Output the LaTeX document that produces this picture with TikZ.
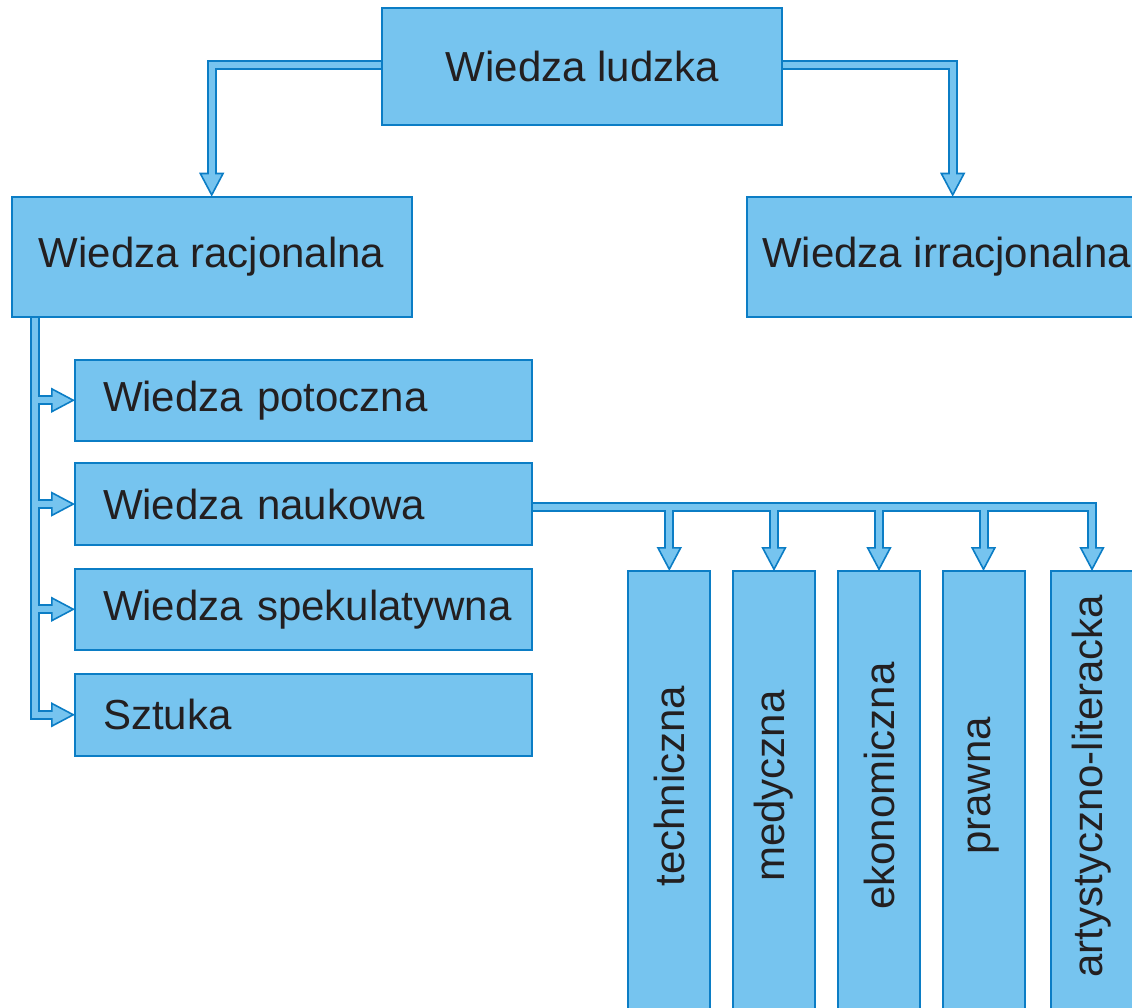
\documentclass[tikz,border=0pt]{standalone}
\usepackage{fontspec}
\setmainfont{Liberation Sans}
\usetikzlibrary{arrows.meta,calc,backgrounds}
\definecolor{lblue}{HTML}{76C4EF}
\definecolor{dblue}{HTML}{0B7DC5}
\definecolor{txt}{HTML}{231F20}
\newcommand\bigfnt{\fontsize{42pt}{50pt}\selectfont}
\newcommand\lboxtext[1]{\hspace*{14pt}\mbox{#1}}
\begin{document}
\begin{tikzpicture}[x=1pt,y=-1pt,
  box/.style={draw=dblue, line width=2pt, fill=lblue, inner sep=0pt, outer sep=0pt, font=\bigfnt, text=txt},
  topbox/.style={box, anchor=north west, minimum width=400pt, minimum height=118pt},
  lbox/.style={box, anchor=north west, text width=429pt, inner xsep=14pt, align=left, minimum height=81.5pt},
  vbox/.style={box, anchor=north, minimum width=82pt, minimum height=470pt},
  vtext/.style={rotate=90, font=\bigfnt, text=txt, inner sep=0pt},
  outer/.style={draw=dblue, line width=10pt, line join=miter},
  inner/.style={draw=lblue, line width=6pt, line join=miter, shorten >=22pt},
  tip/.style={-{Triangle[length=24pt,width=25pt,line width=1.6pt,fill=lblue]}}
]
\clip (0,0) rectangle (1132,1007);

% boxes
\node[topbox, minimum height=117pt] (ludzka) at (382.3,8.3) {Wiedza ludzka};
\node[topbox, minimum height=120pt] (racj) at (11.7,196.7) {Wiedza racjonalna};
\node[topbox, minimum height=120pt] (irr) at (746.7,196.7) {Wiedza irracjonalna};

\node[lbox] (potoczna) at (75,359.5) {\lboxtext{Wiedza potoczna}};
\node[lbox] (naukowa) at (75,463.3) {\lboxtext{Wiedza naukowa}};
\node[lbox] (spek) at (75,568.5) {\lboxtext{Wiedza spekulatywna}};
\node[lbox] (sztuka) at (75,674) {\lboxtext{Sztuka}};

\node[vbox] (tech) at (669.3,571) {};
\node[vbox] (med) at (774,571) {};
\node[vbox] (eko) at (879,571) {};
\node[vbox] (praw) at (983.5,571) {};
\node[vbox] (art) at (1092,571) {};

\node[vtext] (ttech) at ($(tech.north)+(0,215)$) {techniczna};
\node[vtext] (tmed) at ($(med.north)+(0,215)$) {medyczna};
\node[vtext] (teko) at ($(eko.north)+(0,215)$) {ekonomiczna};
\node[vtext] (tpraw) at ($(praw.north)+(0,215)$) {prawna};
\node[vtext] (tart) at ($(art.north)+(0,215)$) {artystyczno-literacka};

\coordinate (lw) at ($(ludzka.west)+(0,-2)$);
\coordinate (le) at ($(ludzka.east)+(0,-2)$);
\coordinate (irrt) at ($(irr.north)+(6,0)$);
\coordinate (tr) at ($(racj.south west)+(23,0)$);
\coordinate (h) at ($(naukowa.east)+(0,2.5)$);

\begin{scope}[on background layer]
  % outer pass
  \draw[outer,tip] (lw) -| (racj.north);
  \draw[outer,tip] (le) -| (irrt);
  \draw[outer,tip] (tr) |- (sztuka.west);
  \draw[outer,tip] (tr |- potoczna.west) -- (potoczna.west);
  \draw[outer,tip] (tr |- naukowa.west) -- (naukowa.west);
  \draw[outer,tip] (tr |- spek.west) -- (spek.west);
  \draw[outer,tip] (h) -| (art.north);
  \draw[outer,tip] (h -| tech.north) -- (tech.north);
  \draw[outer,tip] (h -| med.north) -- (med.north);
  \draw[outer,tip] (h -| eko.north) -- (eko.north);
  \draw[outer,tip] (h -| praw.north) -- (praw.north);
  % inner pass
  \draw[inner] (lw) -| (racj.north);
  \draw[inner] (le) -| (irrt);
  \draw[inner] (tr) |- (sztuka.west);
  \draw[inner] (tr |- potoczna.west) -- (potoczna.west);
  \draw[inner] (tr |- naukowa.west) -- (naukowa.west);
  \draw[inner] (tr |- spek.west) -- (spek.west);
  \draw[inner] (h) -| (art.north);
  \draw[inner] (h -| tech.north) -- (tech.north);
  \draw[inner] (h -| med.north) -- (med.north);
  \draw[inner] (h -| eko.north) -- (eko.north);
  \draw[inner] (h -| praw.north) -- (praw.north);
\end{scope}
\end{tikzpicture}
\end{document}
